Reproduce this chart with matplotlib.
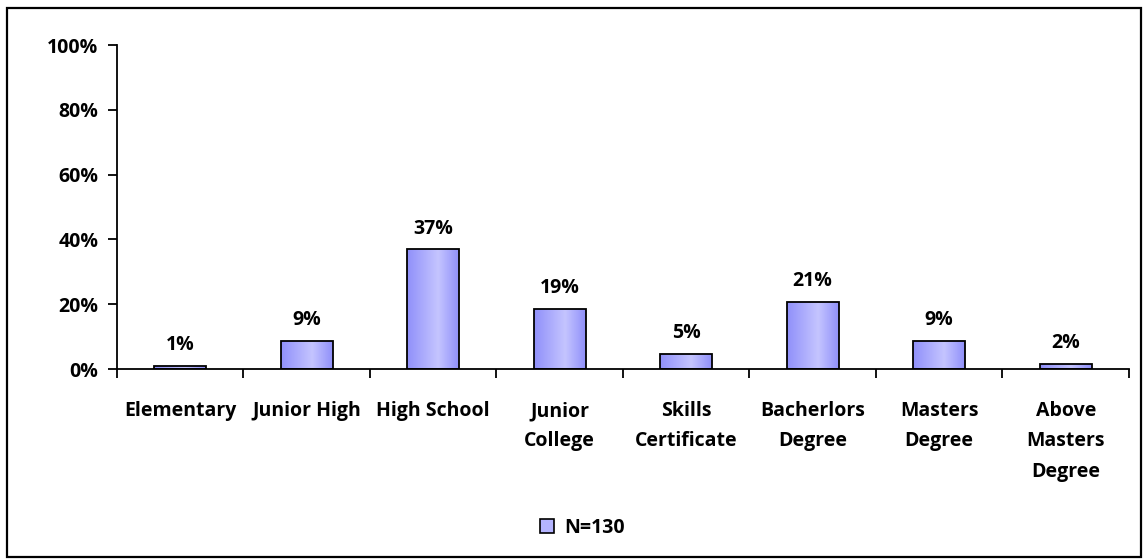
import matplotlib.pyplot as plt
import matplotlib.patches as mpatches
import numpy as np

# education level of respondents (share of N=130, in %)
niveles = ['Elementary', 'Junior High', 'High School', 'Junior\nCollege',
           'Skills\nCertificate', 'Bacherlors\nDegree', 'Masters\nDegree',
           'Above\nMasters\nDegree']
porcentajes = [0.8, 8.6, 36.9, 18.6, 4.6, 20.8, 8.6, 1.5]
n_total = 130
yticks = [0, 20, 40, 60, 80, 100]

plt.rcParams['font.family'] = ['Open Sans', 'DejaVu Sans']
plt.rcParams['font.weight'] = 'bold'
fs = 14

fig = plt.figure(figsize=(11.48, 5.6), dpi=100)
ax = fig.add_axes([0.1019, 0.341, 0.8815, 0.5786])

x = np.arange(len(niveles))
barras = ax.bar(x, porcentajes, width=0.41, facecolor='none',
                edgecolor='black', linewidth=1.3, zorder=3)

# degradado horizontal dentro de cada barra
grad = np.concatenate([np.linspace(0, 1, 60), np.linspace(1, 0, 40)])[None, :]
cmap = plt.matplotlib.colors.LinearSegmentedColormap.from_list(
    'lav', ['#9090FA', '#C4C4FF'])
for b in barras:
    x0, w, h = b.get_x(), b.get_width(), b.get_height()
    im = ax.imshow(grad, cmap=cmap, aspect='auto', extent=[x0, x0 + w, 0, h],
                   zorder=2, interpolation='bicubic')
    im.set_clip_path(b)

for xi, p in zip(x, porcentajes):
    ax.annotate(f'{p:.0f}%', (xi, p), xytext=(0, 11.5), textcoords='offset points',
                ha='center', va='baseline', fontsize=fs, fontweight='bold')

ax.set_xlim(-0.5, len(niveles) - 0.5)
ax.set_ylim(0, 100)
ax.set_aspect('auto')
ax.set_yticks(yticks)
ax.set_yticklabels([f'{t}%' for t in yticks])
ax.set_xticks(x)
ax.set_xticklabels(niveles, linespacing=1.7)
ax.set_xticks(np.arange(-0.5, len(niveles)), minor=True)
ax.tick_params(axis='x', which='major', length=0, pad=23, labelsize=fs)
ax.tick_params(axis='x', which='minor', length=6.5, width=1.3, direction='out')
ax.tick_params(axis='y', length=6.5, width=1.3, pad=7, labelsize=fs)

for s in ['top', 'right']:
    ax.spines[s].set_visible(False)
for s in ['left', 'bottom']:
    ax.spines[s].set_linewidth(1.3)

handle = mpatches.Patch(facecolor='#B4B4FF', edgecolor='black', linewidth=1.2)
fig.legend([handle], [f'N={n_total}'], loc='center', bbox_to_anchor=(0.507, 0.058),
           frameon=False, fontsize=fs, handlelength=0.75, handleheight=0.75,
           handletextpad=0.5)

# marco exterior
fig.patches.append(mpatches.Rectangle((0.0061, 0.005), 0.9878, 0.981,
                                      transform=fig.transFigure, fill=False,
                                      edgecolor='black', linewidth=1.6))

fig.savefig('out.png', dpi=100)
